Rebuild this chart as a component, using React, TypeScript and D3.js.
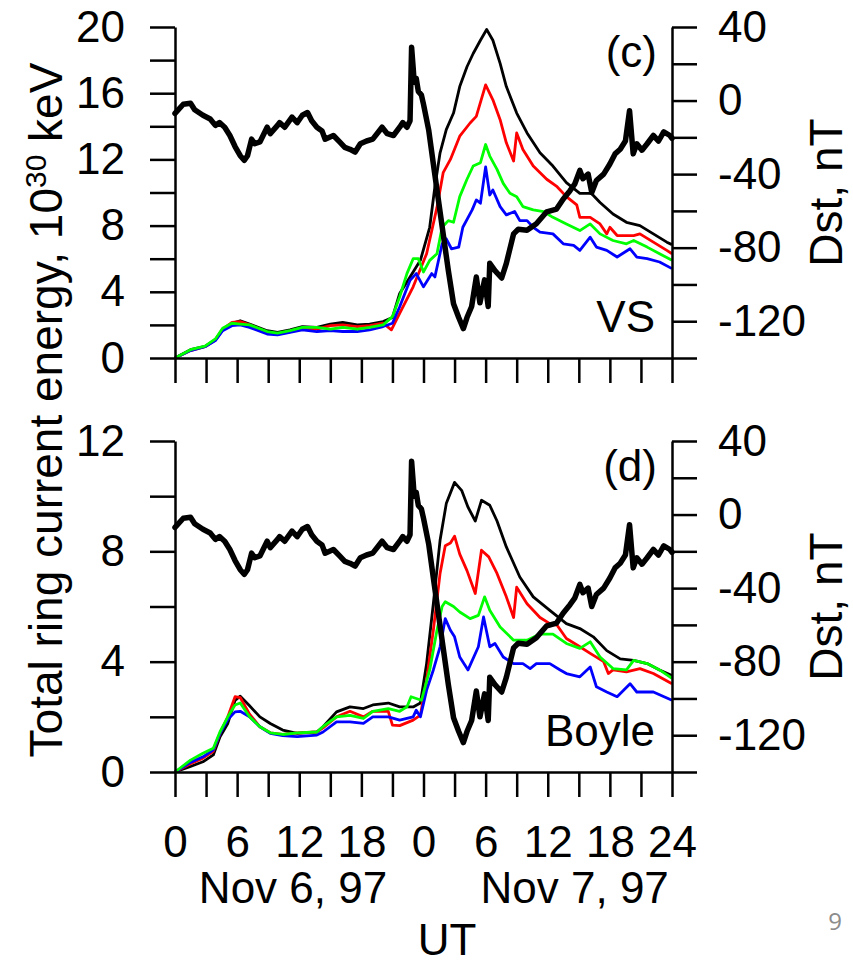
import React, { useEffect, useRef } from 'react';
import * as d3 from 'd3';

// hours since Nov 6, 1997 00 UT
const hourTicks = d3.range(0, 49, 3);
const hourLabels = ['0', '6', '12', '18', '0', '6', '12', '18', '24'];
const dayLabels = [
  { h: 11.4, text: 'Nov 6, 97' },
  { h: 38.6, text: 'Nov 7, 97' },
];
const dstTicks = d3.range(-140, 41, 20);
const dstLabels = [40, 0, -40, -80, -120];

// Dst index, nT (same in both panels)
const dst = [
  [0, -7], [0.8, -2], [1.5, -1.5], [1.9, -5], [2.7, -8], [3.4, -10], [3.9, -13.5], [4.3, -12],
  [4.8, -14.5], [5.3, -19], [5.8, -25], [6.3, -30], [6.7, -32.5], [7.0, -30], [7.4, -21],
  [7.7, -23.5], [8.2, -22.5], [8.9, -14.5], [9.2, -18], [9.9, -13.5], [10.1, -12], [10.6, -14.5],
  [11.3, -9], [11.8, -12], [12.3, -8], [12.8, -6.5], [13.2, -11], [13.7, -14.5], [14.2, -16.5],
  [14.5, -21], [15.3, -19], [15.9, -22.5], [16.4, -25.5], [16.9, -26.5], [17.4, -28], [17.9, -23.5],
  [18.5, -22], [19.1, -21], [20.0, -14.5], [20.5, -18], [21.1, -19], [21.7, -14.5], [22.0, -12],
  [22.4, -14.5], [22.7, -11], [22.85, 29], [23.0, 18], [23.1, 10], [23.3, 12], [23.5, 5],
  [23.8, 3], [24.0, -2], [24.5, -16], [24.95, -34.5], [25.4, -52.5], [25.9, -72.5], [26.4, -92.5],
  [26.9, -110.5], [27.4, -118], [27.85, -124], [28.2, -118], [28.65, -112], [29.1, -96],
  [29.45, -110], [29.9, -97.5], [30.25, -112], [30.4, -88.5], [30.9, -92.5], [31.55, -96.5],
  [32.0, -88.5], [32.7, -72.5], [33.15, -70], [34.0, -70.5], [34.9, -67], [35.9, -60.5],
  [36.85, -59], [37.5, -53.5], [38.15, -49], [38.6, -45.5], [39.1, -38], [39.4, -42.5],
  [39.9, -40], [40.25, -50], [40.7, -43.5], [41.4, -40], [42.0, -34.5], [42.5, -29], [43.0, -26.5],
  [43.5, -22], [43.9, -5.5], [44.25, -29], [44.6, -23.5], [45.1, -27], [45.6, -23.5], [46.2, -19],
  [46.7, -22], [47.2, -17], [47.8, -19], [48, -20.5],
];

// panel (c): VS model, 10^30 keV
const vsBlack = [
  [0, 0], [1.5, 0.5], [2.9, 0.7], [3.9, 1.1], [4.6, 1.7], [5.5, 2.1], [6.3, 2.25], [7.2, 2.05],
  [8.9, 1.65], [9.9, 1.55], [11.1, 1.7], [12.3, 1.9], [13.7, 1.85], [15, 2.05], [16.2, 2.15],
  [17.6, 2.0], [18.8, 2.05], [20.1, 2.2], [21.0, 2.45], [21.7, 3.9], [22.7, 4.9], [23.7, 5.9],
  [24.6, 7.9], [25.1, 10.35], [25.6, 12.4], [26.2, 13.8], [26.9, 14.8], [27.5, 16.4], [28.2, 17.6],
  [28.8, 18.4], [29.5, 19.2], [30.1, 19.85], [30.7, 19.2], [31.4, 17.8], [32.0, 16.4], [33.0, 14.8],
  [34.0, 13.6], [35.25, 12.4], [36.5, 11.6], [37.8, 10.6], [39.1, 9.95], [40.2, 9.95], [41.05, 9.4],
  [42.3, 8.7], [43.6, 8.2], [44.9, 8.0], [46.2, 7.5], [47.5, 7.0], [48, 6.85],
];
const vsRed = [
  [0, 0], [1.5, 0.45], [2.9, 0.68], [3.9, 1.1], [4.6, 1.75], [5.5, 2.15], [6.3, 2.2], [7.2, 2.0],
  [8.9, 1.55], [9.9, 1.45], [11.1, 1.6], [12.3, 1.8], [13.7, 1.75], [15, 1.95], [16.2, 2.0],
  [17.6, 1.9], [18.8, 1.95], [20.1, 2.1], [20.9, 1.7], [21.7, 2.7], [23.0, 4.3], [24.3, 6.3],
  [25.3, 9.1], [25.9, 11.2], [26.6, 12.0], [27.5, 13.4], [28.5, 14.2], [29.1, 14.6], [30.0, 16.5],
  [30.7, 15.6], [31.4, 14.4], [32.0, 13.0], [32.7, 11.9], [33.0, 13.6], [33.6, 12.6], [34.6, 11.6],
  [35.9, 10.8], [36.9, 10.35], [37.8, 9.75], [38.8, 9.25], [39.1, 8.5], [40.1, 8.5], [41.05, 8.1],
  [41.7, 7.5], [42.0, 7.9], [42.7, 7.4], [44.3, 7.4], [44.9, 7.5], [46.2, 7.0], [47.5, 6.5], [48, 6.3],
];
const vsGreen = [
  [0, 0], [1.5, 0.5], [2.9, 0.72], [3.9, 1.15], [4.6, 1.8], [5.5, 2.1], [6.3, 2.05], [7.2, 2.0],
  [8.9, 1.6], [9.9, 1.5], [11.1, 1.65], [12.3, 1.85], [13.7, 1.85], [15, 1.75], [16.2, 1.85],
  [17.6, 1.75], [18.8, 1.85], [20.1, 2.0], [21.0, 2.5], [21.7, 3.7], [22.4, 5.1], [23.0, 6.0],
  [23.5, 6.0], [24.0, 5.2], [24.6, 5.9], [25.3, 6.3], [25.8, 7.9], [26.4, 8.3], [26.9, 8.2],
  [27.5, 9.75], [28.2, 10.8], [28.8, 11.6], [29.5, 11.8], [30.0, 12.9], [30.4, 12.2], [31.1, 11.4],
  [31.7, 10.55], [32.35, 9.95], [33.0, 9.75], [33.6, 9.15], [34.6, 8.95], [35.6, 8.85], [36.5, 8.5],
  [37.8, 8.1], [39.1, 7.7], [40.1, 8.1], [41.05, 7.5], [42.3, 7.1], [43.6, 6.9], [44.3, 7.1],
  [45.6, 6.7], [46.8, 6.3], [48, 5.9],
];
const vsBlue = [
  [0, 0], [1.5, 0.45], [2.9, 0.68], [3.9, 1.05], [4.6, 1.65], [5.5, 1.95], [6.3, 2.0], [7.2, 1.85],
  [8.9, 1.45], [9.9, 1.4], [11.1, 1.55], [12.3, 1.7], [13.7, 1.6], [15, 1.65], [16.2, 1.6],
  [17.6, 1.6], [18.8, 1.7], [20.1, 1.9], [21.0, 2.1], [21.7, 3.1], [22.7, 4.7], [23.3, 5.1],
  [24.0, 4.3], [24.8, 5.1], [25.1, 4.9], [25.8, 6.9], [26.2, 7.2], [26.7, 6.6], [27.4, 6.7],
  [27.8, 7.9], [28.7, 8.95], [29.1, 9.55], [29.5, 9.35], [30.0, 11.55], [30.4, 9.85], [30.7, 10.15],
  [31.4, 9.15], [32.0, 8.65], [32.8, 8.85], [33.3, 8.3], [34.0, 8.3], [34.6, 7.9], [35.25, 7.6],
  [36.5, 7.5], [37.5, 6.9], [38.5, 6.8], [39.1, 6.5], [40.1, 7.3], [40.7, 6.7], [41.7, 6.5],
  [42.7, 6.1], [43.95, 6.6], [44.6, 6.1], [45.6, 6.0], [46.8, 5.8], [48, 5.4],
];

// panel (d): Boyle model, 10^30 keV
const boyleBlack = [
  [0, 0], [1.5, 0.2], [2.7, 0.37], [3.7, 0.62], [4.35, 1.28], [5.1, 1.76], [5.8, 2.6], [6.3, 2.75],
  [7.2, 2.4], [8.2, 2.0], [9.2, 1.76], [10.4, 1.52], [11.8, 1.4], [13.7, 1.45], [14.3, 1.64],
  [15.6, 2.18], [16.9, 2.36], [18.2, 2.3], [19.1, 2.43], [20.6, 2.5], [21.7, 2.36], [23.0, 2.36],
  [23.7, 2.5], [24.3, 3.93], [24.95, 6.1], [25.6, 8.4], [26.2, 9.73], [27.0, 10.5], [27.7, 10.2],
  [28.3, 9.6], [29.0, 9.1], [29.6, 9.85], [30.4, 9.67], [31.1, 9.1], [32.0, 8.16], [33.3, 7.07],
  [34.6, 6.35], [36.2, 5.86], [37.8, 5.38], [39.1, 5.2], [40.4, 4.9], [41.7, 4.4], [43.0, 4.1],
  [44.3, 4.05], [45.6, 3.93], [46.8, 3.7], [48, 3.5],
];
const boyleRed = [
  [0, 0], [1.5, 0.3], [2.7, 0.5], [3.7, 0.75], [4.35, 1.4], [5.1, 2.0], [5.8, 2.73], [6.3, 2.7],
  [7.2, 2.1], [8.2, 1.64], [9.2, 1.42], [10.4, 1.36], [11.8, 1.42], [13.7, 1.45], [14.3, 1.6],
  [15.6, 2.0], [16.9, 2.2], [18.2, 2.0], [19.1, 2.2], [20.6, 2.2], [21.0, 1.7], [21.7, 1.68],
  [23.0, 1.88], [23.7, 2.06], [24.3, 3.33], [24.95, 5.14], [25.6, 7.2], [26.1, 8.2], [26.6, 8.3],
  [27.0, 8.55], [27.5, 7.9], [28.2, 7.3], [29.0, 6.47], [29.6, 8.04], [30.3, 7.8], [31.1, 7.2],
  [32.0, 6.35], [32.7, 5.6], [33.0, 6.7], [34.0, 6.1], [35.25, 5.6], [36.2, 5.38], [36.9, 5.32],
  [37.8, 4.84], [39.1, 4.54], [40.1, 4.3], [41.4, 4.0], [41.85, 3.57], [42.3, 3.7], [43.6, 3.63],
  [44.9, 3.75], [46.2, 3.57], [48, 3.2],
];
const boyleGreen = [
  [0, 0], [1.5, 0.43], [2.7, 0.68], [3.7, 0.86], [4.35, 1.46], [5.1, 2.0], [5.8, 2.43], [6.3, 2.5],
  [7.2, 2.0], [8.2, 1.64], [9.2, 1.42], [10.4, 1.36], [11.8, 1.42], [13.7, 1.45], [14.3, 1.65],
  [15.6, 2.0], [16.9, 2.05], [18.2, 1.94], [19.1, 2.2], [20.6, 2.3], [21.7, 2.2], [22.4, 2.36],
  [22.8, 2.73], [23.8, 2.6], [24.6, 3.7], [25.3, 5.14], [25.8, 6.0], [26.1, 6.17], [26.9, 6.0],
  [27.5, 5.8], [28.5, 5.56], [29.3, 5.68], [29.9, 6.35], [30.4, 5.86], [31.4, 5.26], [32.7, 4.78],
  [34.0, 4.78], [35.25, 5.0], [36.5, 5.0], [37.8, 4.66], [39.1, 4.48], [40.1, 4.72], [41.05, 4.17],
  [42.3, 3.75], [43.6, 3.7], [44.3, 4.05], [45.6, 3.93], [46.8, 3.7], [48, 3.4],
];
const boyleBlue = [
  [0, 0], [1.5, 0.35], [2.7, 0.55], [3.7, 0.8], [4.35, 1.4], [5.1, 1.9], [5.8, 2.18], [6.3, 2.2],
  [7.2, 2.0], [8.2, 1.64], [9.2, 1.4], [10.4, 1.32], [11.8, 1.28], [13.7, 1.34], [14.3, 1.45],
  [15.6, 1.82], [16.9, 1.82], [18.2, 1.76], [19.1, 2.0], [20.6, 2.0], [21.7, 1.88], [23.0, 2.0],
  [23.3, 2.24], [23.7, 2.0], [24.3, 2.97], [24.95, 3.7], [25.6, 4.54], [26.1, 5.56], [26.6, 5.14],
  [27.0, 4.9], [27.5, 4.17], [28.3, 3.7], [29.3, 4.54], [29.8, 5.62], [30.4, 4.54], [30.9, 4.66],
  [31.7, 4.17], [32.7, 3.93], [33.6, 3.93], [34.3, 3.75], [34.9, 3.93], [36.2, 3.93], [37.2, 3.7],
  [37.8, 3.57], [39.1, 3.45], [40.1, 3.81], [40.7, 3.09], [41.7, 2.9], [42.7, 2.73], [43.95, 3.2],
  [44.6, 2.9], [46.2, 2.9], [48, 2.6],
];

const FONT = '"Liberation Sans", Arial, sans-serif';

const panels = [
  {
    top: 27, bottom: 358, eMax: 20, tag: '(c)', model: 'VS', showHours: false,
    series: [[vsBlack, '#000'], [vsRed, '#ff0000'], [vsBlue, '#0000ff'], [vsGreen, '#00ff00']],
  },
  {
    top: 441, bottom: 772, eMax: 12, tag: '(d)', model: 'Boyle', showHours: true,
    series: [[boyleBlack, '#000'], [boyleRed, '#ff0000'], [boyleBlue, '#0000ff'], [boyleGreen, '#00ff00']],
  },
];

const App = () => {
  const svgRef = useRef();

  useEffect(() => {
    const width = 853;
    const height = 966;
    const left = 175;
    const right = 672;

    const svg = d3.select(svgRef.current);
    svg.selectAll('*').remove();
    svg.attr('viewBox', [0, 0, width, height]);

    svg.append('rect').attr('width', width).attr('height', height).attr('fill', '#fff');

    const x = d3.scaleLinear().domain([0, 48]).range([left, right]);

    panels.forEach((p) => {
      const yE = d3.scaleLinear().domain([0, p.eMax]).range([p.bottom, p.top]);
      const yD = d3.scaleLinear().domain([-140, 40]).range([p.bottom, p.top]);

      const g = svg.append('g');

      // energy curves
      const eLine = d3.line().x(d => x(d[0])).y(d => yE(d[1]));
      p.series.forEach(([data, color]) => {
        g.append('path')
          .datum(data)
          .attr('fill', 'none')
          .attr('stroke', color)
          .attr('stroke-width', 2.8)
          .attr('stroke-linejoin', 'round')
          .attr('d', eLine);
      });

      // Dst curve
      const dLine = d3.line().x(d => x(d[0])).y(d => yD(d[1]));
      g.append('path')
        .datum(dst)
        .attr('fill', 'none')
        .attr('stroke', '#000')
        .attr('stroke-width', 5.5)
        .attr('stroke-linejoin', 'round')
        .attr('stroke-linecap', 'round')
        .attr('d', dLine);

      // left axis
      const yAxis = d3.axisLeft(yE)
        .tickValues(d3.range(0, p.eMax + 1, 2))
        .tickSize(25)
        .tickSizeOuter(0)
        .tickPadding(25)
        .tickFormat(d => (d % 4 === 0 ? String(d) : ''));
      g.append('g').attr('transform', `translate(${left},0)`).call(yAxis);

      // right axis
      const dAxis = d3.axisRight(yD)
        .tickValues(dstTicks)
        .tickSize(25)
        .tickSizeOuter(0)
        .tickPadding(21)
        .tickFormat(d => (dstLabels.includes(d) ? String(d) : ''));
      g.append('g').attr('transform', `translate(${right},0)`).call(dAxis);

      // bottom axis
      const xAxis = d3.axisBottom(x)
        .tickValues(hourTicks)
        .tickSize(25)
        .tickSizeOuter(0)
        .tickPadding(29)
        .tickFormat(d => (p.showHours && d % 6 === 0 ? hourLabels[d / 6] : ''));
      g.append('g').attr('transform', `translate(0,${p.bottom})`).call(xAxis);

      g.append('text')
        .attr('x', 657).attr('y', p.top + 40)
        .attr('text-anchor', 'end')
        .text(p.tag);
      g.append('text')
        .attr('x', 655).attr('y', p.bottom - 26)
        .attr('text-anchor', 'end')
        .text(p.model);

      g.append('text')
        .attr('class', 'dst-title')
        .attr('transform', `translate(842,${(p.top + p.bottom) / 2}) rotate(-90)`)
        .attr('text-anchor', 'middle')
        .text('Dst, nT');
    });

    svg.selectAll('.domain, .tick line')
      .attr('stroke', '#000')
      .attr('stroke-width', 2.5);
    svg.selectAll('text')
      .attr('font-family', FONT)
      .attr('font-size', 44)
      .attr('fill', '#000');
    svg.selectAll('.dst-title').attr('font-size', 46);

    dayLabels.forEach((d) => {
      svg.append('text')
        .attr('x', x(d.h)).attr('y', 903)
        .attr('text-anchor', 'middle')
        .attr('font-family', FONT).attr('font-size', 44)
        .text(d.text);
    });

    svg.append('text')
      .attr('x', 447).attr('y', 955)
      .attr('text-anchor', 'middle')
      .attr('font-family', FONT).attr('font-size', 44)
      .text('UT');

    const title = svg.append('text')
      .attr('transform', 'translate(62,410) rotate(-90)')
      .attr('text-anchor', 'middle')
      .attr('font-family', FONT).attr('font-size', 46);
    title.append('tspan').text('Total ring current energy, 10');
    title.append('tspan').attr('dy', -16).attr('font-size', 30).text('30');
    title.append('tspan').attr('dy', 16).text(' keV');

    svg.append('text')
      .attr('x', 842).attr('y', 930)
      .attr('text-anchor', 'end')
      .attr('font-family', '"Open Sans", sans-serif').attr('font-size', 24)
      .attr('fill', '#8c8c8c')
      .text('9');
  });

  return (
    <div style={{ position: 'absolute', left: 0, top: 0 }}>
      <svg ref={svgRef} width={853} height={966} style={{ display: 'block' }}></svg>
    </div>
  );
};

export default App;
